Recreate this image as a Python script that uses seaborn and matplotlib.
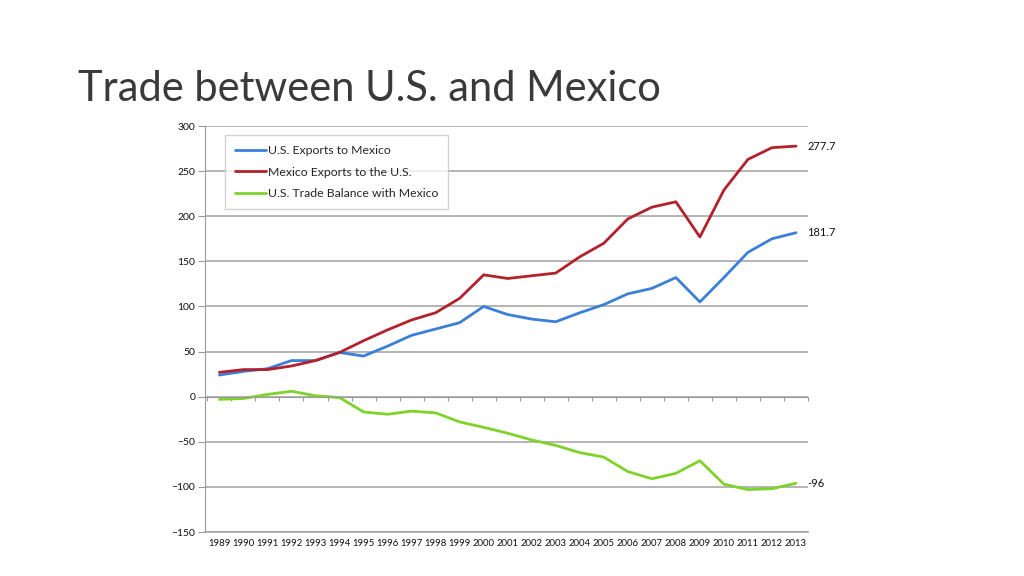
import numpy as np
import pandas as pd
import matplotlib
matplotlib.use("Agg")
import matplotlib.pyplot as plt
import seaborn as sns

sns.set_style("white")
plt.rcParams['font.family'] = ['Lato', 'DejaVu Sans']

# Data (billions of US$)
years = list(range(1989, 2014))
us_exports = [24, 28, 31, 40, 40, 49, 45, 56, 68, 75, 82, 100, 91, 86, 83, 93, 102,
              114, 120, 132, 105, 132, 160, 175, 181.7]
mx_exports = [27, 30, 30, 34, 40, 49, 62, 74, 85, 93, 109, 135, 131, 134, 137, 155, 170,
              197, 210, 216, 177, 229, 263, 276, 277.7]
balance = [-3, -2, 2.5, 6, 1, -1, -17, -19.5, -16, -18, -28, -34, -40.5, -48, -54, -62, -67,
           -83, -91, -85, -71, -97, -103, -102, -96]
series_names = ["U.S. Exports to Mexico", "Mexico Exports to the U.S.",
                "U.S. Trade Balance with Mexico"]
end_labels = ["181.7", "277.7", "-96"]
colors = ["#3b7fd9", "#b3222c", "#7ed32a"]

df = pd.DataFrame({"year": years * 3,
                   "value": us_exports + mx_exports + balance,
                   "series": [s for s in series_names for _ in years]})

fig = plt.figure(figsize=(10.24, 5.76), dpi=100)
ax = fig.add_axes([205 / 1024, 1 - 532 / 576, 603 / 1024, 406 / 576])

sns.lineplot(data=df, x="year", y="value", hue="series", palette=colors,
             hue_order=series_names, linewidth=2.0, ax=ax)

ax.set_xlim(years[0] - 0.6, years[-1] + 0.5)
ax.set_ylim(-150, 300)
ax.set_yticks(np.arange(-150, 301, 50))
ax.set_xlabel("")
ax.set_ylabel("")

# gridlines
ax.grid(axis="y", color="#a0a0a0", linewidth=1.1)
ax.grid(axis="x", visible=False)
ax.set_axisbelow(True)

for s in ["top", "right"]:
    ax.spines[s].set_visible(False)
ax.spines["left"].set_color("#9a9a9a")
ax.spines["bottom"].set_color("#9a9a9a")
ax.spines["bottom"].set_position(("data", 0))

# tick marks on the zero line, between years
ax.set_xticks(np.arange(years[0] - 0.5, years[-1] + 1, 1))
ax.set_xticklabels([])
ax.tick_params(axis="x", direction="out", length=3, color="#9a9a9a", bottom=True)
ax.tick_params(axis="y", direction="out", length=5, color="#9a9a9a", left=True,
               labelsize=7.5, pad=2, labelcolor="#111111")

# year labels along the bottom; its spine is the bottom (-150) rule
sec = ax.secondary_xaxis("bottom")
sec.patch.set_visible(False)
sec.set_xticks(years)
sec.set_xticklabels([str(y) for y in years], fontsize=6.8, color="#111111")
sec.tick_params(length=0, pad=5)
sec.spines["bottom"].set_visible(True)
sec.spines["bottom"].set_color("#a0a0a0")
sec.spines["bottom"].set_linewidth(1.1)

# end-value labels
for vals, lab in zip([us_exports, mx_exports, balance], end_labels):
    ax.annotate(lab, xy=(years[-1], vals[-1]), xytext=(8, 0), textcoords="offset points",
                va="center", ha="left", fontsize=8, color="#111111")

leg = ax.legend(loc="upper left", bbox_to_anchor=(0.033, 0.977), fontsize=8.8,
                frameon=True, fancybox=False, handlelength=2.6, handletextpad=0.1,
                labelspacing=0.85, borderpad=0.8, borderaxespad=0)
leg.get_frame().set_edgecolor("#c8c8c8")
leg.get_frame().set_linewidth(1)

fig.text(78 / 1024, 1 - 101 / 576, "Trade between U.S. and Mexico", fontsize=30,
         color="#3a3a3a", fontweight="normal", ha="left", va="baseline")

fig.savefig("out.png", dpi=100)
